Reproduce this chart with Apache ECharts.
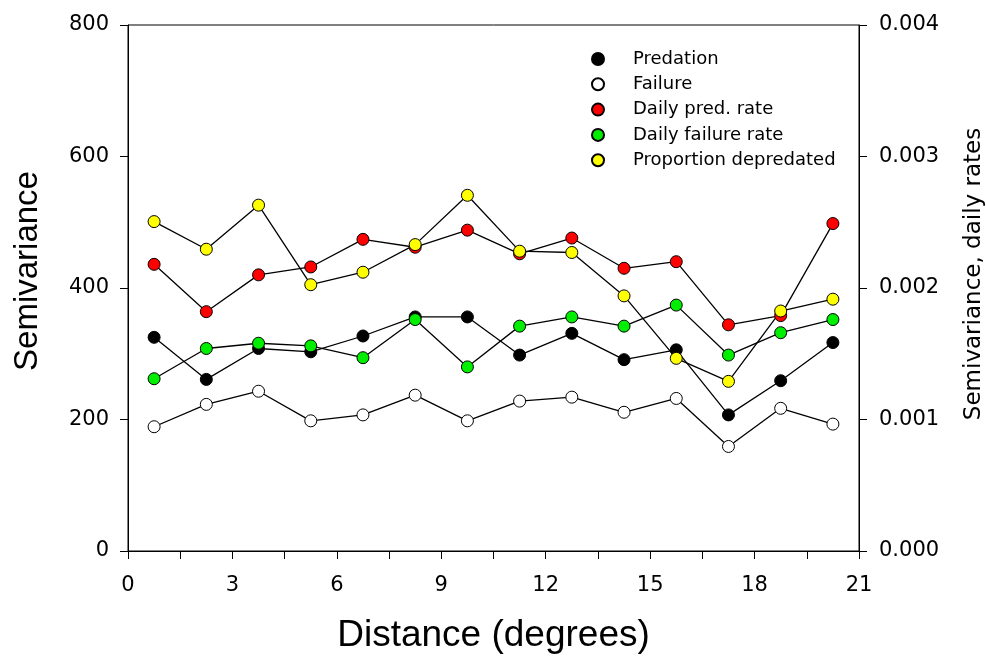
<!DOCTYPE html>
<html lang="en" style="height: 100%">
<head>
  <meta charset="UTF-8" />
  <title>Semivariance by distance</title>
  <script src="https://cdn.jsdelivr.net/npm/echarts@6/dist/echarts.min.js"></script>
  <style>
    html, body {
      height: 100%;
      margin: 0;
      background-color: #fff;
    }
    #chart {
      width: 986px;
      height: 658px;
    }
  </style>
</head>
<body>
  <div id="chart"></div>

  <script>
    // distance classes (degrees)
    const distance = [0.75, 2.25, 3.75, 5.25, 6.75, 8.25, 9.75, 11.25, 12.75, 14.25, 15.75, 17.25, 18.75, 20.25];

    // left axis (semivariance)
    const predation = [325, 261, 308, 303, 327, 356, 356, 298, 331, 291, 306, 207, 259, 317];
    const failure = [189, 223, 243, 198, 207, 237, 198, 228, 234, 211, 232, 159, 217, 193];
    const propDepredated = [501, 459, 526, 405, 424, 466, 541, 456, 454, 388, 293, 258, 365, 383];

    // right axis (daily rates)
    const dailyPredRate = [0.00218, 0.00182, 0.00210, 0.00216, 0.00237, 0.00231, 0.00244, 0.00226, 0.00238, 0.00215, 0.00220, 0.00172, 0.00179, 0.00249];
    const dailyFailRate = [0.00131, 0.00154, 0.00158, 0.00156, 0.00147, 0.00176, 0.00140, 0.00171, 0.00178, 0.00171, 0.00187, 0.00149, 0.00166, 0.00176];

    const font = 'Liberation Sans, Arial, sans-serif';
    const wideFont = 'DejaVu Sans, sans-serif';

    const chart = echarts.init(document.getElementById('chart'));

    function pairs(ys) {
      return distance.map((x, i) => [x, ys[i]]);
    }

    function makeSeries(name, ys, fill, yIndex) {
      return {
        name: name,
        type: 'line',
        yAxisIndex: yIndex,
        data: pairs(ys),
        symbol: 'circle',
        symbolSize: 12,
        showAllSymbol: true,
        lineStyle: { color: '#000', width: 1.3 },
        itemStyle: { color: fill, borderColor: '#000', borderWidth: 1 },
        emphasis: { disabled: true },
        animation: false
      };
    }

    const axisCommon = {
      axisLine: { show: true, lineStyle: { color: '#000', width: 1 } },
      axisTick: { show: true, inside: false, length: 8, lineStyle: { color: '#000' } },
      axisLabel: { color: '#000', fontSize: 21, fontFamily: wideFont, margin: 19 },
      splitLine: { show: false }
    };

    chart.setOption({
      backgroundColor: '#fff',
      textStyle: { fontFamily: font },
      grid: {
        left: 128, right: 127, top: 25, bottom: 107,
        show: true, borderColor: '#000', borderWidth: 1,
        outerBoundsMode: 'none'
      },
      legend: {
        orient: 'vertical',
        left: 591,
        top: 50,
        padding: 0,
        icon: 'circle',
        itemWidth: 12,
        itemHeight: 12,
        itemGap: 7.3,
        textStyle: { fontSize: 18, lineHeight: 18, color: '#000', fontFamily: wideFont, padding: [0, 0, 0, 24] },
        data: ['Predation', 'Failure', 'Daily pred. rate', 'Daily failure rate', 'Proportion depredated']
      },
      xAxis: Object.assign({}, axisCommon, {
        type: 'value',
        min: 0, max: 21, interval: 3,
        axisLabel: Object.assign({}, axisCommon.axisLabel, { margin: 24 }),
        minorTick: { show: true, splitNumber: 2, length: 8, lineStyle: { color: '#000' } },
        minorSplitLine: { show: false },
        name: 'Distance (degrees)',
        nameLocation: 'middle',
        nameGap: 66,
        nameTextStyle: { fontSize: 37, color: '#000', fontFamily: font }
      }),
      yAxis: [
        Object.assign({}, axisCommon, {
          type: 'value',
          position: 'left',
          min: 0, max: 800, interval: 200,
          name: 'Semivariance',
          nameLocation: 'middle',
          nameGap: 84,
          nameTextStyle: { fontSize: 33, color: '#000', fontFamily: font, padding: [0, 0, 0, 34] }
        }),
        Object.assign({}, axisCommon, {
          type: 'value',
          position: 'right',
          min: 0, max: 0.004, interval: 0.001,
          axisLabel: Object.assign({}, axisCommon.axisLabel, {
            margin: 20,
            formatter: v => v.toFixed(3)
          }),
          name: 'Semivariance, daily rates',
          nameLocation: 'middle',
          nameGap: 104,
          nameTextStyle: { fontSize: 23, color: '#000', fontFamily: wideFont, padding: [0, 0, 0, 28] }
        })
      ],
      series: [
        makeSeries('Predation', predation, '#000', 0),
        makeSeries('Failure', failure, '#fff', 0),
        makeSeries('Daily pred. rate', dailyPredRate, '#ff0000', 1),
        makeSeries('Daily failure rate', dailyFailRate, '#00ee00', 1),
        makeSeries('Proportion depredated', propDepredated, '#ffff00', 0)
      ]
    });
  </script>
</body>
</html>
